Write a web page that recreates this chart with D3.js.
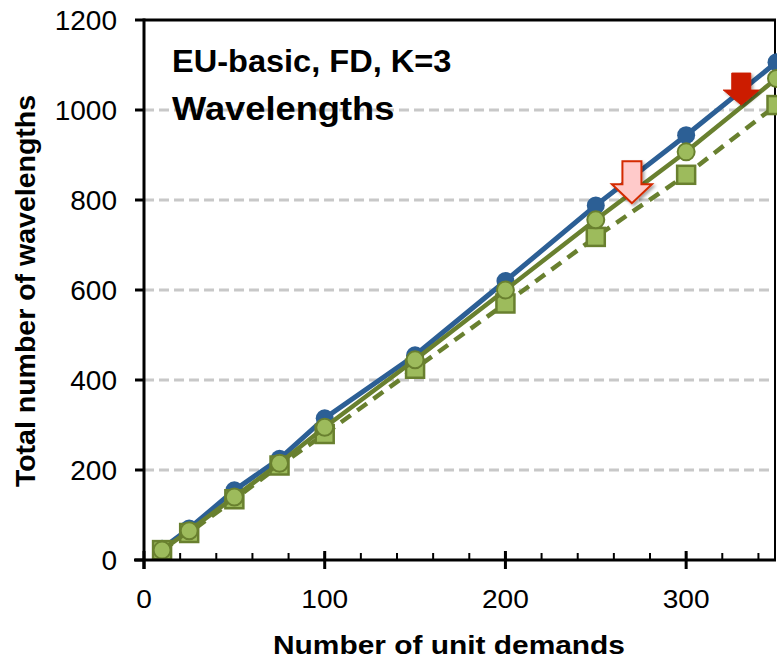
<!DOCTYPE html>
<html>
<head>
<meta charset="utf-8">
<script src="https://cdn.jsdelivr.net/npm/d3@7"></script>
<style>
  html, body { margin: 0; padding: 0; background: #fff; }
  svg { display: block; font-family: "Liberation Sans", Arial, sans-serif; }
</style>
</head>
<body>
<div id="chart"></div>
<script>
// unit demands on the x axis
const demands = [10, 25, 50, 75, 100, 150, 200, 250, 300, 350];
// the three curves
const seriesBlue = [25, 70, 155, 225, 315, 455, 620, 788, 944, 1106];
const seriesCircle = [22, 65, 140, 215, 295, 445, 600, 756, 907, 1070];
const seriesSquare = [22, 60, 135, 210, 280, 425, 570, 718, 856, 1011];
const xTicks = [0, 100, 200, 300];
const xMinorTicks = d3.range(0, 351, 20);
const yTicks = [0, 200, 400, 600, 800, 1000, 1200];
const gridValues = [200, 400, 600, 800, 1000];
// arrow tips (x demand, y wavelengths)
const arrows = [
  { x: 270, y: 793, kind: "light" },
  { x: 330.5, y: 1011, kind: "dark" }
];

const width = 777, height = 661;

const x = d3.scaleLinear().domain([0, 350]).range([144, 776.5]);
const y = d3.scaleLinear().domain([0, 1200]).range([560, 20]);

const svg = d3.select("#chart").append("svg")
  .attr("width", width)
  .attr("height", height);

const defs = svg.append("defs");
const shadow = defs.append("filter").attr("id", "shadow")
  .attr("x", "-50%").attr("y", "-50%").attr("width", "200%").attr("height", "200%");
shadow.append("feDropShadow")
  .attr("dx", 2).attr("dy", 2).attr("stdDeviation", 1.5)
  .attr("flood-color", "#000").attr("flood-opacity", 0.35);

// gridlines
svg.append("g")
  .selectAll("line")
  .data(gridValues)
  .join("line")
  .attr("x1", x(0)).attr("x2", 775)
  .attr("y1", d => y(d)).attr("y2", d => y(d))
  .attr("stroke", "#c8c8c8")
  .attr("stroke-width", 3)
  .attr("stroke-dasharray", "10,5");

// plot border (top and right)
svg.append("line")
  .attr("x1", x(0)).attr("x2", 776).attr("y1", y(1200)).attr("y2", y(1200))
  .attr("stroke", "#000").attr("stroke-width", 3);
svg.append("line")
  .attr("x1", 775).attr("x2", 775).attr("y1", y(1200)).attr("y2", y(0))
  .attr("stroke", "#000").attr("stroke-width", 2);

const blue = "#2c5f95";
const green = "#69802f";
const greenFill = "#9dbb5c";

const line = d3.line().x((d, i) => x(demands[i])).y(d => y(d));

// blue series
svg.append("path")
  .datum(seriesBlue)
  .attr("d", line)
  .attr("fill", "none")
  .attr("stroke", blue)
  .attr("stroke-width", 5);
svg.append("g")
  .selectAll("circle")
  .data(seriesBlue)
  .join("circle")
  .attr("cx", (d, i) => x(demands[i]))
  .attr("cy", d => y(d))
  .attr("r", 9)
  .attr("fill", blue);

// dashed series with squares
svg.append("path")
  .datum(seriesSquare)
  .attr("d", line)
  .attr("fill", "none")
  .attr("stroke", green)
  .attr("stroke-width", 4.5)
  .attr("stroke-dasharray", "12,8");
svg.append("g")
  .selectAll("rect")
  .data(seriesSquare)
  .join("rect")
  .attr("x", (d, i) => x(demands[i]) - 9)
  .attr("y", d => y(d) - 9)
  .attr("width", 18)
  .attr("height", 18)
  .attr("fill", greenFill)
  .attr("stroke", green)
  .attr("stroke-width", 2.5);

// solid series with circles
svg.append("path")
  .datum(seriesCircle)
  .attr("d", line)
  .attr("fill", "none")
  .attr("stroke", green)
  .attr("stroke-width", 4.5);
svg.append("g")
  .selectAll("circle")
  .data(seriesCircle)
  .join("circle")
  .attr("cx", (d, i) => x(demands[i]))
  .attr("cy", d => y(d))
  .attr("r", 8.5)
  .attr("fill", greenFill)
  .attr("stroke", green)
  .attr("stroke-width", 2);

// arrows
const arrowPath = (tx, ty, total, head, hw, sw) => {
  return `M${tx},${ty} L${tx - hw},${ty - head} L${tx - sw},${ty - head} L${tx - sw},${ty - total}` +
    ` L${tx + sw},${ty - total} L${tx + sw},${ty - head} L${tx + hw},${ty - head} Z`;
};
svg.append("g")
  .selectAll("path")
  .data(arrows)
  .join("path")
  .attr("d", d => d.kind === "dark"
    ? arrowPath(x(d.x), y(d.y), 32, 15, 18, 9.5)
    : arrowPath(x(d.x), y(d.y), 42, 19, 20, 9.5))
  .attr("fill", d => d.kind === "dark" ? "#cc1f00" : "#ffcaca")
  .attr("stroke", d => d.kind === "dark" ? "#cc1f00" : "#d42a00")
  .attr("stroke-width", d => d.kind === "dark" ? 1 : 2)
  .attr("filter", "url(#shadow)");

// axes
const xAxis = svg.append("g");
xAxis.append("line")
  .attr("x1", 134).attr("x2", 776).attr("y1", y(0)).attr("y2", y(0))
  .attr("stroke", "#000").attr("stroke-width", 3);
xAxis.selectAll(".minor")
  .data(xMinorTicks)
  .join("line")
  .attr("class", "minor")
  .attr("x1", d => x(d)).attr("x2", d => x(d))
  .attr("y1", y(0)).attr("y2", y(0) - 7)
  .attr("stroke", "#000").attr("stroke-width", 2);
xAxis.selectAll(".major")
  .data(xTicks)
  .join("line")
  .attr("class", "major")
  .attr("x1", d => x(d)).attr("x2", d => x(d))
  .attr("y1", y(0) - 9).attr("y2", y(0) + 9)
  .attr("stroke", "#000").attr("stroke-width", 3);
xAxis.selectAll("text")
  .data(xTicks)
  .join("text")
  .attr("transform", d => `translate(${x(d)},608) scale(1.08,1)`)
  .attr("text-anchor", "middle")
  .attr("font-size", 26)
  .attr("fill", "#000")
  .text(d => d);

const yAxis = svg.append("g");
yAxis.append("line")
  .attr("x1", x(0)).attr("x2", x(0)).attr("y1", y(1200) - 1.5).attr("y2", y(0) + 9)
  .attr("stroke", "#000").attr("stroke-width", 3);
yAxis.selectAll(".major")
  .data(yTicks)
  .join("line")
  .attr("class", "major")
  .attr("x1", x(0) - 9).attr("x2", x(0))
  .attr("y1", d => y(d)).attr("y2", d => y(d))
  .attr("stroke", "#000").attr("stroke-width", 3);
yAxis.selectAll("text")
  .data(yTicks)
  .join("text")
  .attr("x", 117)
  .attr("y", d => y(d) + 10)
  .attr("text-anchor", "end")
  .attr("font-size", 28)
  .attr("fill", "#000")
  .text(d => d);

// axis titles
svg.append("text")
  .attr("transform", "translate(449,654) scale(1.15,1)")
  .attr("text-anchor", "middle")
  .attr("font-size", 26)
  .attr("font-weight", "bold")
  .text("Number of unit demands");
svg.append("text")
  .attr("transform", "translate(35,291) rotate(-90)")
  .attr("text-anchor", "middle")
  .attr("font-size", 28.5)
  .attr("font-weight", "bold")
  .text("Total number of wavelengths");

// in-plot labels
svg.append("text")
  .attr("transform", "translate(172,72) scale(1.05,1)")
  .attr("font-size", 31)
  .attr("font-weight", "bold")
  .text("EU-basic, FD, K=3");
svg.append("text")
  .attr("transform", "translate(172,120) scale(1.1,1)")
  .attr("font-size", 33)
  .attr("font-weight", "bold")
  .text("Wavelengths");
</script>
</body>
</html>
